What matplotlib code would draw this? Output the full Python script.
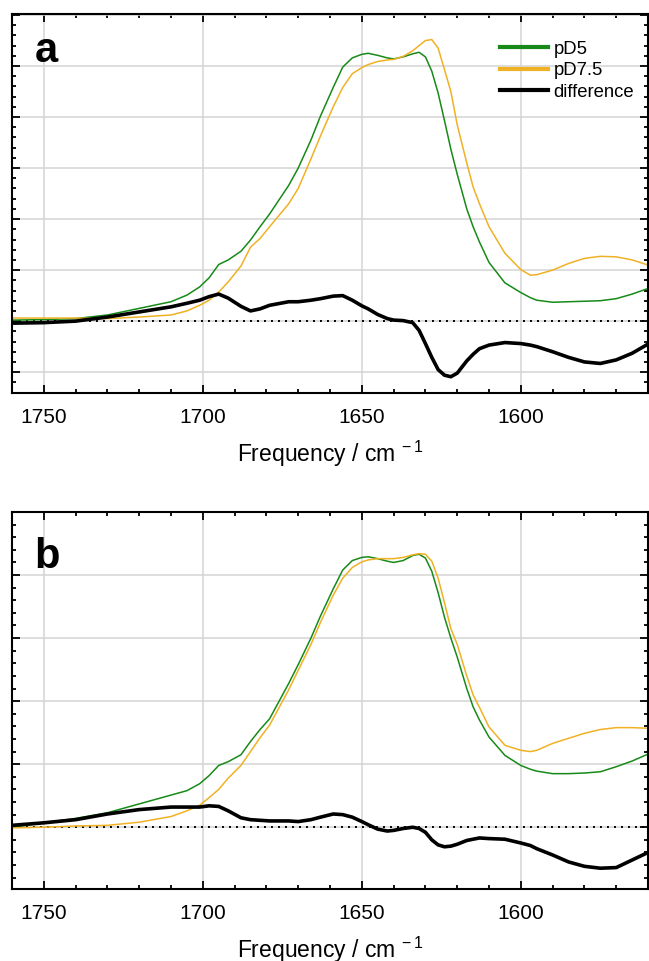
import numpy as np
import matplotlib
matplotlib.use('Agg')
import matplotlib.pyplot as plt
from matplotlib.ticker import MultipleLocator

plt.rcParams['font.family'] = ['Liberation Sans', 'DejaVu Sans']
plt.rcParams['mathtext.fontset'] = 'custom'
plt.rcParams['mathtext.rm'] = 'Liberation Sans'

# wavenumber grid (cm-1), shared by both panels
freq = [1760, 1750, 1740, 1730, 1720, 1710, 1705, 1701, 1698, 1695, 1692, 1688,
        1685, 1682, 1679, 1673, 1670, 1666, 1663, 1659, 1656, 1653, 1650, 1648,
        1645, 1642, 1640, 1637, 1634, 1632, 1630, 1628, 1626, 1624, 1622, 1620,
        1617, 1615, 1613, 1610, 1605, 1600, 1597, 1595, 1590, 1585, 1580, 1575,
        1570, 1565, 1560]

# panel a
a_pd5 = [0.02, 0.03, 0.05, 0.12, 0.25, 0.38, 0.51, 0.67, 0.85, 1.11, 1.20, 1.37,
         1.59, 1.85, 2.10, 2.66, 3.00, 3.55, 4.02, 4.58, 4.98, 5.16, 5.23, 5.25,
         5.21, 5.16, 5.14, 5.18, 5.24, 5.27, 5.18, 4.90, 4.47, 3.93, 3.37, 2.88,
         2.20, 1.85, 1.55, 1.15, 0.75, 0.56, 0.46, 0.41, 0.37, 0.38, 0.39, 0.40,
         0.44, 0.53, 0.64]
a_pd75 = [0.06, 0.06, 0.06, 0.05, 0.08, 0.12, 0.20, 0.31, 0.41, 0.57, 0.77, 1.08,
          1.45, 1.62, 1.85, 2.30, 2.60, 3.18, 3.63, 4.20, 4.58, 4.85, 4.97, 5.03,
          5.09, 5.12, 5.13, 5.19, 5.30, 5.40, 5.50, 5.52, 5.35, 4.93, 4.50, 3.85,
          3.10, 2.63, 2.30, 1.85, 1.33, 1.01, 0.90, 0.91, 1.00, 1.13, 1.23, 1.27,
          1.26, 1.20, 1.10]
a_diff = [-0.04, -0.03, 0.00, 0.08, 0.18, 0.28, 0.35, 0.41, 0.48, 0.53, 0.45, 0.29,
          0.20, 0.24, 0.31, 0.38, 0.38, 0.41, 0.44, 0.49, 0.50, 0.41, 0.30, 0.24,
          0.13, 0.05, 0.02, 0.01, -0.03, -0.18, -0.44, -0.71, -0.95, -1.06, -1.09, -1.02,
          -0.78, -0.65, -0.54, -0.47, -0.42, -0.44, -0.47, -0.50, -0.60, -0.71, -0.80, -0.83,
          -0.76, -0.63, -0.45]

# panel b
b_pd5 = [0.00, 0.07, 0.14, 0.23, 0.37, 0.51, 0.58, 0.69, 0.82, 0.98, 1.04, 1.15,
         1.36, 1.55, 1.72, 2.28, 2.58, 3.00, 3.35, 3.78, 4.08, 4.23, 4.28, 4.29,
         4.26, 4.22, 4.20, 4.23, 4.31, 4.33, 4.27, 4.06, 3.72, 3.33, 3.00, 2.70,
         2.20, 1.91, 1.70, 1.43, 1.14, 0.98, 0.92, 0.89, 0.85, 0.85, 0.86, 0.88,
         0.96, 1.05, 1.16]
b_pd75 = [-0.01, 0.00, 0.02, 0.03, 0.08, 0.17, 0.26, 0.35, 0.47, 0.60, 0.78, 0.98,
          1.20, 1.42, 1.62, 2.18, 2.49, 2.90, 3.25, 3.68, 3.95, 4.12, 4.21, 4.24,
          4.26, 4.26, 4.26, 4.28, 4.32, 4.34, 4.33, 4.22, 3.95, 3.56, 3.15, 2.90,
          2.40, 2.10, 1.90, 1.59, 1.30, 1.22, 1.20, 1.22, 1.33, 1.41, 1.49, 1.55,
          1.58, 1.58, 1.57]
b_diff = [0.03, 0.07, 0.12, 0.21, 0.28, 0.32, 0.32, 0.32, 0.34, 0.33, 0.26, 0.15,
          0.12, 0.11, 0.10, 0.10, 0.09, 0.12, 0.16, 0.21, 0.20, 0.16, 0.09, 0.04,
          -0.03, -0.06, -0.05, -0.02, 0.00, -0.02, -0.08, -0.20, -0.28, -0.31, -0.30, -0.27,
          -0.21, -0.19, -0.17, -0.18, -0.19, -0.25, -0.29, -0.34, -0.44, -0.55, -0.62, -0.65,
          -0.64, -0.52, -0.40]

GREEN = '#178a17'
ORANGE = '#f0b124'


def style_axes(ax, ylim):
    ax.set_xlim(1760, 1560)
    ax.set_ylim(*ylim)
    ax.xaxis.set_major_locator(MultipleLocator(50))
    ax.xaxis.set_minor_locator(MultipleLocator(10))
    ax.yaxis.set_major_locator(MultipleLocator(1))
    ax.yaxis.set_minor_locator(MultipleLocator(0.2))
    ax.grid(True, which='major', color='#d4d4d4', lw=1.1)
    ax.set_axisbelow(True)
    ax.tick_params(which='both', direction='in', top=True, right=True,
                   width=1.3, labelsize=15, pad=11)
    ax.tick_params(which='major', length=6)
    ax.tick_params(which='minor', length=3)
    ax.set_yticklabels([])
    for sp in ax.spines.values():
        sp.set_linewidth(1.5)
    ax.axhline(0, color='black', lw=1.4, ls=(0, (1, 2.6)), zorder=1.5)
    ax.set_xlabel('Frequency / cm $^{\\mathrm{-\\,1}}$', fontsize=16.5, labelpad=8)


fig = plt.figure(figsize=(6.49, 9.61), dpi=100)
ax1 = fig.add_axes([0.0185, 0.591, 0.98, 0.3944])
ax2 = fig.add_axes([0.0185, 0.0749, 0.98, 0.3923])

for ax, g, o, d, ylim, letter, ly in [
        (ax1, a_pd5, a_pd75, a_diff, (-1.41, 6.02), 'a', 0.873),
        (ax2, b_pd5, b_pd75, b_diff, (-0.98, 5.0), 'b', 0.852)]:
    style_axes(ax, ylim)
    ax.plot(freq, g, color=GREEN, lw=1.1, label='pD5')
    ax.plot(freq, o, color=ORANGE, lw=1.1, label='pD7.5')
    ax.plot(freq, d, color='black', lw=2.6, label='difference')
    ax.text(0.035, ly, letter, transform=ax.transAxes, fontsize=30,
            fontweight='bold', va='baseline', ha='left')

leg = ax1.legend(loc='upper left', bbox_to_anchor=(0.767, 0.93), frameon=False,
                 fontsize=13.3, handlelength=2.6, handletextpad=0.3,
                 labelspacing=0.25, borderpad=0, borderaxespad=0)
for h in leg.legend_handles:
    h.set_linewidth(3)

fig.savefig('out.png', dpi=100)
